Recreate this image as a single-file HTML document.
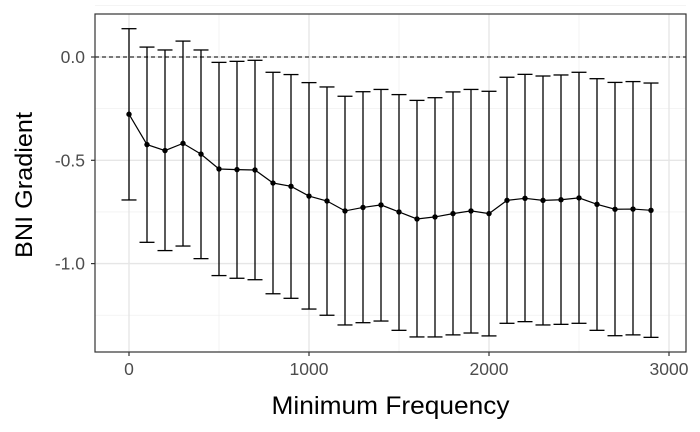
<!DOCTYPE html>
<html><head><meta charset="utf-8"><style>body{margin:0;background:#fff}svg{display:block;font-family:"Liberation Sans",Arial,sans-serif}</style></head>
<body>
<svg id="chart" width="700" height="432"></svg>
<script>
const freqs=[0,100,200,300,400,500,600,700,800,900,1000,1100,1200,1300,1400,1500,1600,1700,1800,1900,2000,2100,2200,2300,2400,2500,2600,2700,2800,2900];
const means=[-0.277,-0.424,-0.453,-0.418,-0.470,-0.542,-0.545,-0.547,-0.610,-0.626,-0.673,-0.697,-0.745,-0.728,-0.716,-0.750,-0.784,-0.774,-0.758,-0.745,-0.758,-0.694,-0.684,-0.694,-0.691,-0.682,-0.713,-0.737,-0.736,-0.742];
const uppers=[0.137,0.048,0.034,0.077,0.034,-0.026,-0.021,-0.016,-0.074,-0.085,-0.124,-0.145,-0.190,-0.168,-0.157,-0.182,-0.210,-0.197,-0.169,-0.157,-0.166,-0.098,-0.084,-0.092,-0.087,-0.074,-0.105,-0.123,-0.119,-0.126];
const lowers=[-0.692,-0.897,-0.937,-0.915,-0.976,-1.058,-1.071,-1.078,-1.146,-1.168,-1.220,-1.250,-1.297,-1.286,-1.278,-1.323,-1.355,-1.355,-1.345,-1.336,-1.350,-1.289,-1.281,-1.297,-1.294,-1.289,-1.323,-1.349,-1.345,-1.357];
const xTicks=[0,1000,2000,3000];
const xMinor=[500,1500,2500];
const yTicks=[0,-0.5,-1.0];
const yTickLabels=["0.0","-0.5","-1.0"];
const yMinor=[0.25,-0.25,-0.75,-1.25];

const svg=document.getElementById('chart');
const NS='http://www.w3.org/2000/svg';
const L=95,R=686,T=14,B=352;
const sx=v=>129+v*0.18;
const sy=v=>57-v*206.6;
function el(tag,attrs,parent){const e=document.createElementNS(NS,tag);for(const k in attrs)e.setAttribute(k,attrs[k]);(parent||svg).appendChild(e);return e;}

const bg=el('rect',{x:L,y:T,width:R-L,height:B-T,fill:'#fff'});


const grid=el('g',{});


yMinor.forEach(v=>el('line',{x1:L,x2:R,y1:sy(v),y2:sy(v),stroke:'#f0f0f0','stroke-width':0.8},grid));
xMinor.forEach(v=>el('line',{x1:sx(v),x2:sx(v),y1:T,y2:B,stroke:'#f0f0f0','stroke-width':0.8},grid));
yTicks.forEach(v=>el('line',{x1:L,x2:R,y1:sy(v),y2:sy(v),stroke:'#e6e6e6','stroke-width':1.4},grid));
xTicks.forEach(v=>el('line',{x1:sx(v),x2:sx(v),y1:T,y2:B,stroke:'#e6e6e6','stroke-width':1.4},grid));

const ref=el('line',{x1:L,x2:R,y1:sy(0),y2:sy(0),stroke:'#000','stroke-width':1.1,'stroke-dasharray':'4,3'});



const eb=el('g',{stroke:'#000','stroke-width':1.3});


freqs.forEach((f,i)=>{
  const x=sx(f),y1=sy(uppers[i]),y2=sy(lowers[i]);
  el('line',{x1:x,x2:x,y1:y1,y2:y2},eb);
  el('line',{x1:x-7.5,x2:x+7.5,y1:y1,y2:y1},eb);
  el('line',{x1:x-7.5,x2:x+7.5,y1:y2,y2:y2},eb);
});
const line=el('polyline',{points:freqs.map((f,i)=>sx(f)+','+sy(means[i])).join(' '),fill:'none',stroke:'#000','stroke-width':1.2});


freqs.forEach((f,i)=>{
  const c=el('circle',{cx:sx(f),cy:sy(means[i]),r:2.7,fill:'#000'});
  
  
});

const border=el('rect',{x:L,y:T,width:R-L,height:B-T,fill:'none',stroke:'#333','stroke-width':1.2});



yTicks.forEach((v,i)=>{
  el('line',{x1:L-4,x2:L,y1:sy(v),y2:sy(v),stroke:'#333','stroke-width':1.2});
  const t=el('text',{x:L-10,y:sy(v)+6,'text-anchor':'end','font-size':17.5,fill:'#4d4d4d'});
  t.textContent=yTickLabels[i];
  
  
});
xTicks.forEach(v=>{
  el('line',{x1:sx(v),x2:sx(v),y1:B,y2:B+4,stroke:'#333','stroke-width':1.2});
  const t=el('text',{x:sx(v),y:B+23,'text-anchor':'middle','font-size':17.5,fill:'#4d4d4d'});
  t.textContent=String(v);
  
  
});
const xt=el('text',{x:(L+R)/2,y:414,'text-anchor':'middle','font-size':25,fill:'#000',textLength:238,lengthAdjust:'spacingAndGlyphs'});
xt.textContent='Minimum Frequency';


const yt=el('text',{x:0,y:0,'text-anchor':'middle','font-size':24,fill:'#000',textLength:146,lengthAdjust:'spacingAndGlyphs',transform:'translate(32,185) rotate(-90)'});
yt.textContent='BNI Gradient';


</script>
</body></html>
